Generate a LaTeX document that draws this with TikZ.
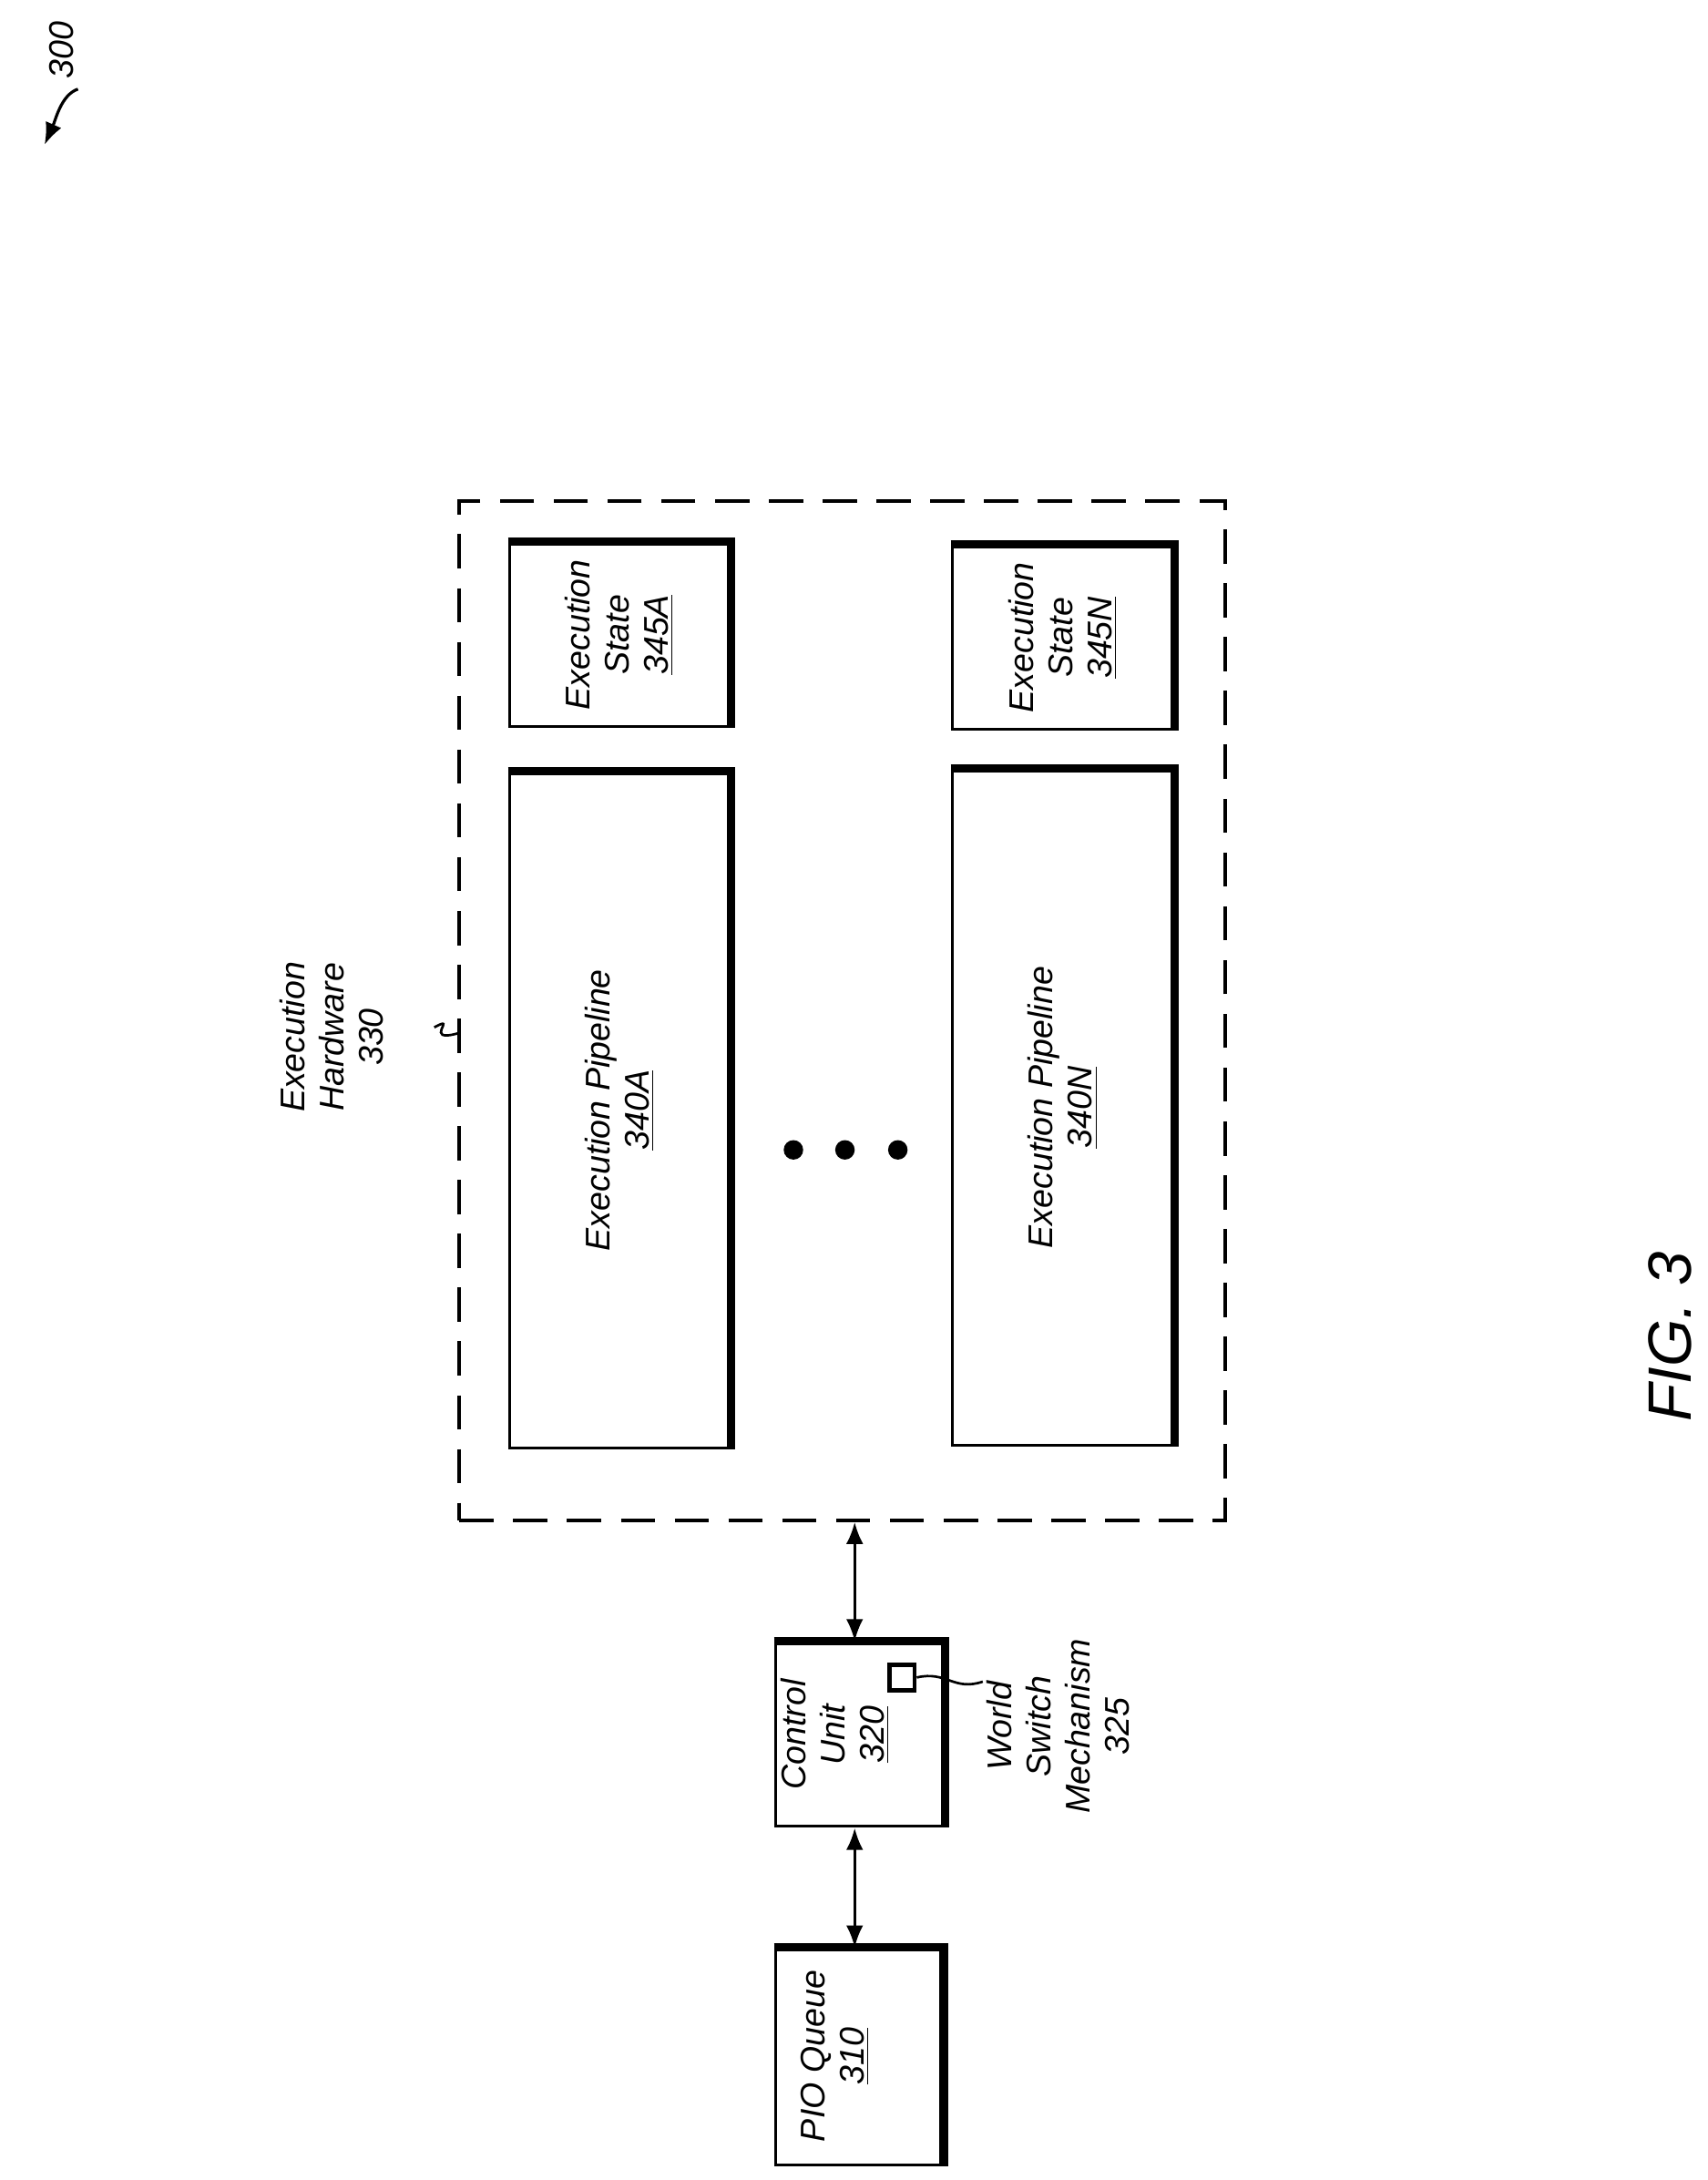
\documentclass[tikz,border=0pt]{standalone}
\usepackage{fontspec}
\setmainfont{Liberation Sans}
\usetikzlibrary{positioning,arrows.meta}
\tikzset{
  box/.style={draw, line width=1.2pt, inner sep=0pt},
  lbl/.style={rotate=90, align=center, font=\itshape\fontsize{14}{16}\selectfont},
  shade/.style={line width=3.5pt},
  link/.style={{Latex[length=9pt,width=7pt]}-{Latex[length=9pt,width=7pt]}, line width=1.2pt}
}
\begin{document}
\begin{tikzpicture}[x=0.02cm, y=-0.02cm]
    \useasboundingbox (0,0) rectangle (1227,1566);
    % Hardware frame
    \node[draw, line width=1.5pt, dash pattern=on 14pt off 8pt, minimum width=11cm, minimum height=14.64cm] (hw) at (605,726) {};
    % Boxes
    \node[box, minimum width=3.16cm, minimum height=2.64cm] (stA) at (445,456) {};
    \node[box, minimum width=3.16cm, minimum height=9.7cm] (pipeA) at (445,797.5) {};
    \node[box, minimum width=3.18cm, minimum height=2.64cm] (stN) at (763.5,458) {};
    \node[box, minimum width=3.18cm, minimum height=9.7cm] (pipeN) at (763.5,795.5) {};
    \node[box, minimum width=2.42cm, minimum height=2.64cm] (cu) at (617.5,1246) {};
    \node[box, minimum width=2.4cm, minimum height=3.1cm] (pio) at (617,1477.5) {};
    \node[draw, line width=1.8pt, minimum size=0.36cm, inner sep=0pt] (ws) at (648,1205) {};
    % Shadows
    \foreach \n in {stA,pipeA,stN,pipeN,cu,pio}
      \draw[shade] (\n.north west) -- (\n.north east) -- (\n.south east);
    % Texts
    \node[lbl] (stAtxt) at (stA) {Execution\\State\\\underline{345A}};
    \node[lbl] (pipeAtxt) at (pipeA) {Execution Pipeline\\\underline{340A}};
    \node[lbl] (stNtxt) at (stN) {Execution\\State\\\underline{345N}};
    \node[lbl] (pipeNtxt) at (pipeN) {Execution Pipeline\\\underline{340N}};
    \node[lbl] (cutxt) at (600,1246) {Control\\Unit\\\underline{320}};
    \node[lbl] (piotxt) at (600,1477) {PIO Queue\\\underline{310}};
    \node[lbl] (hwtxt) at (238,745) {Execution\\Hardware\\330};
    \node[lbl] (wstxt) at (760,1240) {World\\Switch\\Mechanism\\325};
    \node[lbl, font=\itshape\fontsize{25}{28}\selectfont] (fig) at (1200,960) {FIG. 3};
    \node[lbl] (num) at (44,36) {300};
    % Dots
    \foreach \px in {570,607,645}
      \fill (\px,826) circle (7);
    % Connectors
    \draw[link] (cu.north -| 614,0) -- (hw.south -| 614,0);
    \draw[link] (pio.north -| 614,0) -- (cu.south -| 614,0);
    \coordinate (hwstart) at (312,738);
    \coordinate (hwend) at (330,742);
    \draw[line width=1pt] (hwstart) .. controls (330,728) and (302,750) .. (hwend);
    \coordinate (wsend) at (706,1208);
    \draw[line width=1pt] (ws.east) .. controls (680,1200) and (685,1215) .. (wsend);
    \coordinate (numstart) at (56,64);
    \coordinate (numend) at (32,104);
    \draw[-{Latex[length=9pt,width=7pt]}, line width=1.2pt] (numstart) .. controls (44,68) and (40,86) .. (numend);
\end{tikzpicture}
\end{document}
